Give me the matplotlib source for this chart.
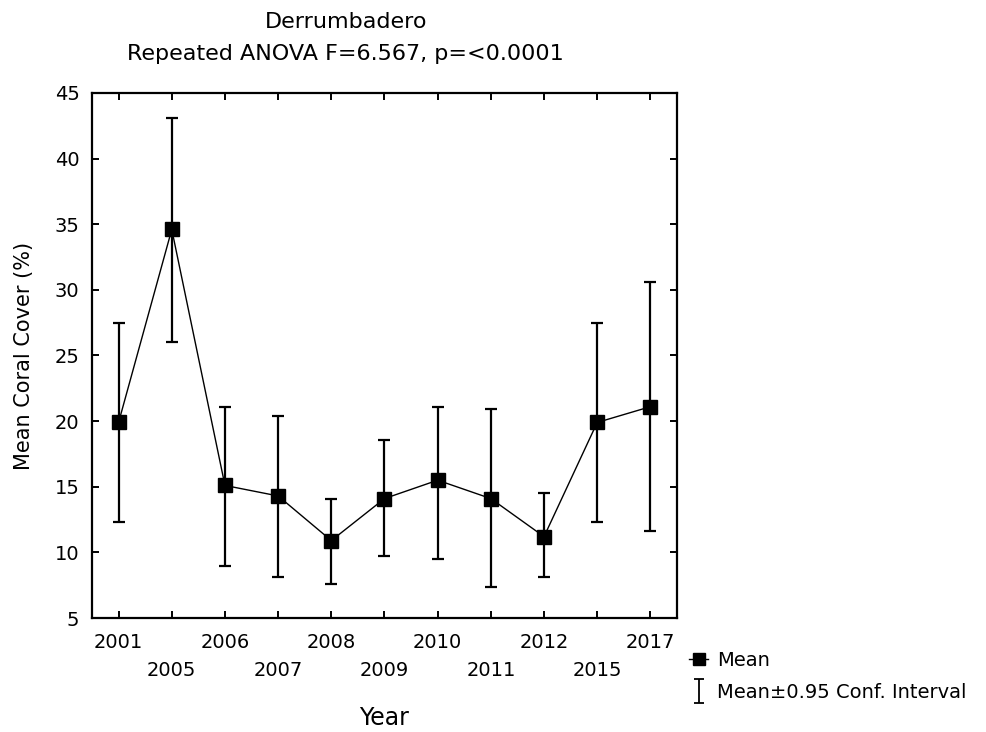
import matplotlib
matplotlib.use('Agg')
import matplotlib.pyplot as plt
from matplotlib.lines import Line2D
from matplotlib.path import Path

plt.rcParams['font.family'] = ['DejaVu Sans']

years = ['2001', '2005', '2006', '2007', '2008', '2009', '2010', '2011', '2012', '2015', '2017']
mean = [19.9, 34.6, 15.1, 14.3, 10.9, 14.1, 15.5, 14.1, 11.2, 19.9, 21.1]
ci_upper = [27.5, 43.1, 21.1, 20.4, 14.1, 18.6, 21.1, 20.9, 14.5, 27.5, 30.6]
ci_lower = [12.3, 26.0, 9.0, 8.1, 7.6, 9.7, 9.5, 7.4, 8.1, 12.3, 11.6]

x = list(range(len(years)))
err_lo = [m - l for m, l in zip(mean, ci_lower)]
err_hi = [u - m for m, u in zip(mean, ci_upper)]

fig = plt.figure(figsize=(9.86, 7.32), dpi=100)
ax = fig.add_axes([0.0933, 0.1557, 0.5933, 0.7173])

ax.errorbar(x, mean, yerr=[err_lo, err_hi], fmt='none', ecolor='black',
            elinewidth=1.6, capsize=4.3, capthick=1.6, zorder=2)
ax.plot(x, mean, color='black', lw=1.0, marker='s', markersize=10.5,
        markerfacecolor='black', markeredgecolor='black', zorder=3)

ax.set_xlim(-0.5, len(years) - 0.5)
ax.set_ylim(5, 45)
ax.set_yticks(range(5, 46, 5))
ax.set_xticks(x)
ax.set_xticklabels(years)

ax.tick_params(axis='both', direction='in', length=5, width=1.4,
               top=True, right=True, labelsize=14)
ax.tick_params(axis='y', pad=9)
for s in ax.spines.values():
    s.set_linewidth(1.6)

# staggered year labels
for i, t in enumerate(ax.xaxis.get_major_ticks()):
    t.set_pad(11 if i % 2 == 0 else 31)

ax.set_ylabel('Mean Coral Cover (%)', fontsize=15, labelpad=15)
ax.set_xlabel('Year', fontsize=17, labelpad=19)

fig.text(346 / 986, 1 - 28 / 732, 'Derrumbadero', ha='center', va='baseline', fontsize=16)
fig.text(345 / 986, 1 - 60 / 732, 'Repeated ANOVA F=6.567, p=<0.0001',
         ha='center', va='baseline', fontsize=16)

ibeam = Path([(-0.45, 1), (0.45, 1), (0, 1), (0, -1), (-0.45, -1), (0.45, -1)],
             [Path.MOVETO, Path.LINETO, Path.MOVETO, Path.LINETO, Path.MOVETO, Path.LINETO])
h_mean = Line2D([], [], marker='s', ls='-', lw=1, color='black', markersize=9)
h_ci = Line2D([], [], marker=ibeam, ls='none', color='black', markersize=17,
              markeredgewidth=1.3, fillstyle='none')
fig.legend([h_mean, h_ci], ['Mean', 'Mean\u00b10.95 Conf. Interval'],
           loc='upper left', bbox_to_anchor=(689 / 986, 1 - 651 / 732),
           frameon=False, fontsize=14, handlelength=1.0, handletextpad=0.45,
           borderpad=0, borderaxespad=0, labelspacing=0.65)

fig.savefig('out.png', dpi=100)
